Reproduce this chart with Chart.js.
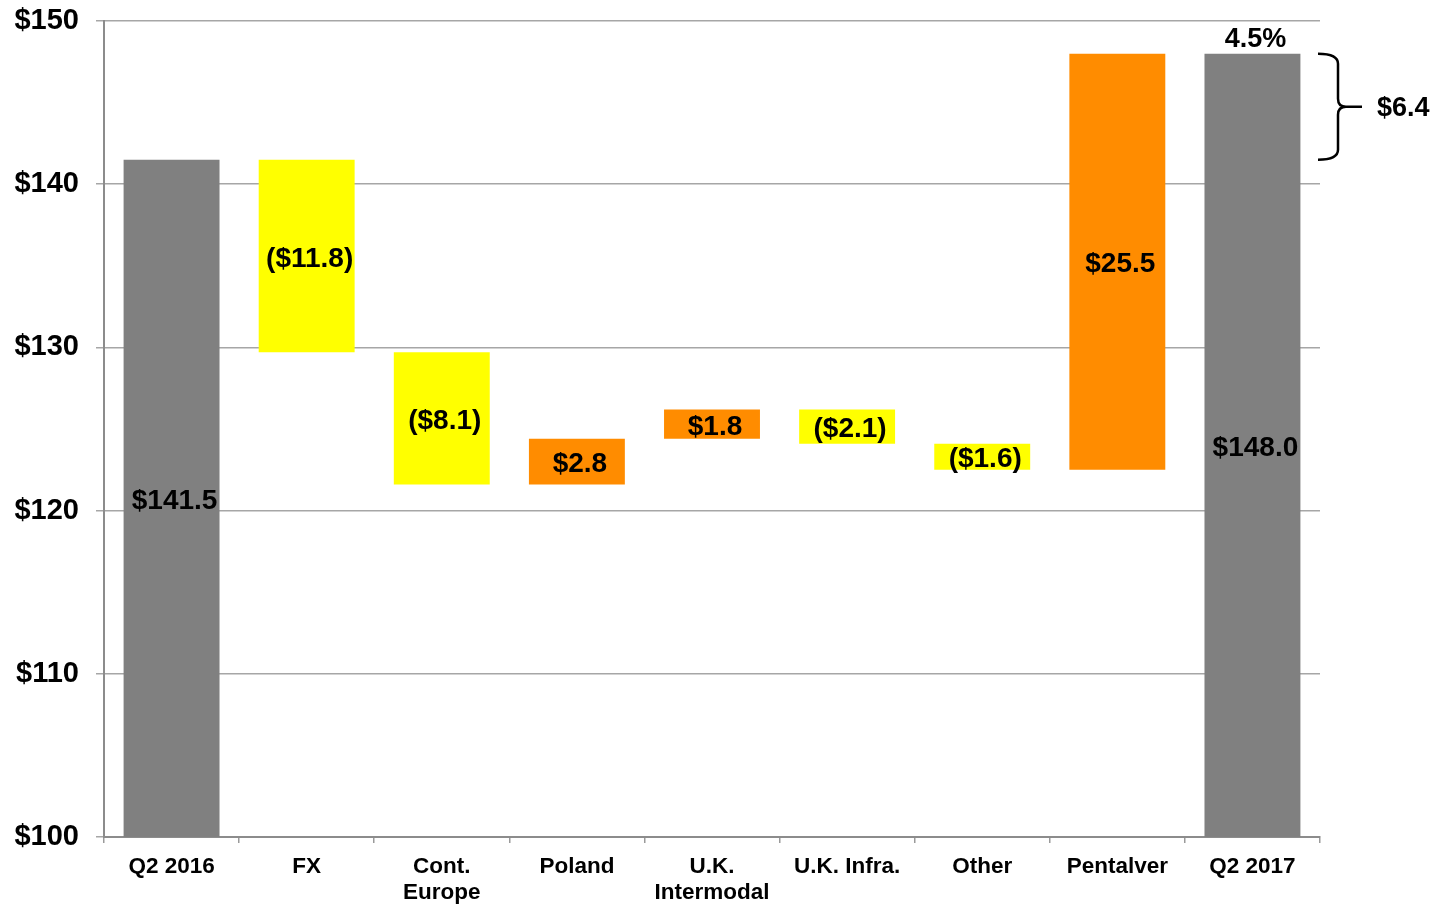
<!DOCTYPE html>
<html>
<head>
<meta charset="utf-8">
<script src="https://cdn.jsdelivr.net/npm/chart.js@4.4.1/dist/chart.umd.min.js"></script>
<style>
  html, body { margin: 0; padding: 0; background: #fff; }
  #wrap { width: 1445px; height: 904px; position: relative; }
</style>
</head>
<body>
<div id="wrap"><canvas id="ponte"></canvas></div>
<script>
// Ponte de receita Q2 2016 -> Q2 2017 (US$ milhões)
const categorias = ['Q2 2016', 'FX', ['Cont.', 'Europe'], 'Poland', ['U.K.', 'Intermodal'], 'U.K. Infra.', 'Other', 'Pentalver', 'Q2 2017'];
const valorInicial = 141.5;
const variacoes = [-11.8, -8.1, 2.8, 1.8, -2.1, -1.6, 25.5];
const valorFinal = 148.0;
const ticksY = [100, 110, 120, 130, 140, 150];
const crescimentoPct = '4.5%';
const crescimentoValor = 6.4;

const CINZA = '#808080';
const AMARELO = '#FFFF00';
const LARANJA = '#FF8C00';
const FONTE = '"Liberation Sans", Arial, sans-serif';

// monta as barras flutuantes [base, topo]
const barras = [[ticksY[0], valorInicial]];
const cores = [CINZA];
const rotulos = ['$' + valorInicial.toFixed(1)];
let acumulado = valorInicial;
variacoes.forEach(v => {
    const prox = acumulado + v;
    barras.push([Math.min(acumulado, prox), Math.max(acumulado, prox)]);
    cores.push(v < 0 ? AMARELO : LARANJA);
    rotulos.push(v < 0 ? '($' + Math.abs(v).toFixed(1) + ')' : '$' + v.toFixed(1));
    acumulado = prox;
});
barras.push([ticksY[0], valorFinal]);
cores.push(CINZA);
rotulos.push('$' + valorFinal.toFixed(1));

// rótulos dentro das barras
const pluginRotulos = {
    id: 'rotulosBarras',
    afterDatasetsDraw(chart) {
        const ctx = chart.ctx;
        const meta = chart.getDatasetMeta(0);
        ctx.save();
        ctx.font = 'bold 28px ' + FONTE;
        ctx.fillStyle = '#000';
        ctx.textAlign = 'center';
        ctx.textBaseline = 'middle';
        meta.data.forEach((bar, i) => {
            const meio = (bar.y + bar.base) / 2;
            ctx.fillText(rotulos[i], bar.x + 3, meio + 3);
        });
        ctx.restore();
    }
};

// chave com o crescimento total à direita do último pilar
const pluginChave = {
    id: 'chaveCrescimento',
    afterDraw(chart) {
        const ctx = chart.ctx;
        const y = chart.scales.y;
        const ultima = chart.getDatasetMeta(0).data[barras.length - 1];
        const yTopo = y.getPixelForValue(valorFinal);
        const yBase = y.getPixelForValue(valorInicial);
        const yMeio = (yTopo + yBase) / 2;
        const x0 = chart.chartArea.right - 2;
        const x1 = x0 + 20;
        ctx.save();
        ctx.strokeStyle = '#000';
        ctx.lineWidth = 2.5;
        ctx.beginPath();
        ctx.moveTo(x0, yTopo);
        ctx.quadraticCurveTo(x1, yTopo, x1, yTopo + 10);
        ctx.lineTo(x1, yMeio - 8);
        ctx.quadraticCurveTo(x1, yMeio, x1 + 8, yMeio);
        ctx.lineTo(x1 + 24, yMeio);
        ctx.moveTo(x1 + 8, yMeio);
        ctx.quadraticCurveTo(x1, yMeio, x1, yMeio + 8);
        ctx.lineTo(x1, yBase - 10);
        ctx.quadraticCurveTo(x1, yBase, x0, yBase);
        ctx.stroke();

        ctx.fillStyle = '#000';
        ctx.font = 'bold 27px ' + FONTE;
        ctx.textBaseline = 'middle';
        ctx.textAlign = 'left';
        ctx.fillText('$' + crescimentoValor.toFixed(1), x1 + 39, yMeio + 2);
        ctx.textAlign = 'center';
        ctx.fillText(crescimentoPct, ultima.x + 3, yTopo - 14);
        ctx.restore();
    }
};

new Chart(document.getElementById('ponte'), {
    type: 'bar',
    data: {
        labels: categorias,
        datasets: [{
            data: barras,
            backgroundColor: cores,
            borderWidth: 0,
            barPercentage: 0.71,
            categoryPercentage: 1.0
        }]
    },
    options: {
        responsive: true,
        maintainAspectRatio: false,
        animation: false,
        layout: { padding: { top: 21, right: 125, left: 0, bottom: 0 } },
        plugins: {
            legend: { display: false },
            tooltip: { enabled: false }
        },
        scales: {
            x: {
                grid: {
                    offset: true,
                    drawOnChartArea: false,
                    tickLength: 6,
                    color: '#9a9a9a',
                    lineWidth: 1.5
                },
                border: { color: '#8c8c8c', width: 2 },
                ticks: {
                    color: '#000',
                    font: { family: FONTE, size: 22.5, weight: 'bold', lineHeight: 1.15 },
                    padding: 11,
                    maxRotation: 0,
                    autoSkip: false
                },
                afterFit(scale) {
                    scale.height = 67;
                    scale.paddingLeft = 0;
                    scale.paddingRight = 0;
                }
            },
            y: {
                min: ticksY[0],
                max: ticksY[ticksY.length - 1],
                afterBuildTicks(scale) {
                    scale.ticks = ticksY.map(v => ({ value: v }));
                },
                grid: {
                    color: '#a6a6a6',
                    lineWidth: 1.5,
                    tickLength: 8
                },
                border: { color: '#8c8c8c', width: 2 },
                ticks: {
                    color: '#000',
                    font: { family: FONTE, size: 29, weight: 'bold' },
                    padding: 17,
                    callback: v => '$' + v
                },
                afterFit(scale) {
                    scale.width = 104;
                    scale.paddingTop = 0;
                    scale.paddingBottom = 0;
                }
            }
        }
    },
    plugins: [pluginRotulos, pluginChave]
});
</script>
</body>
</html>
